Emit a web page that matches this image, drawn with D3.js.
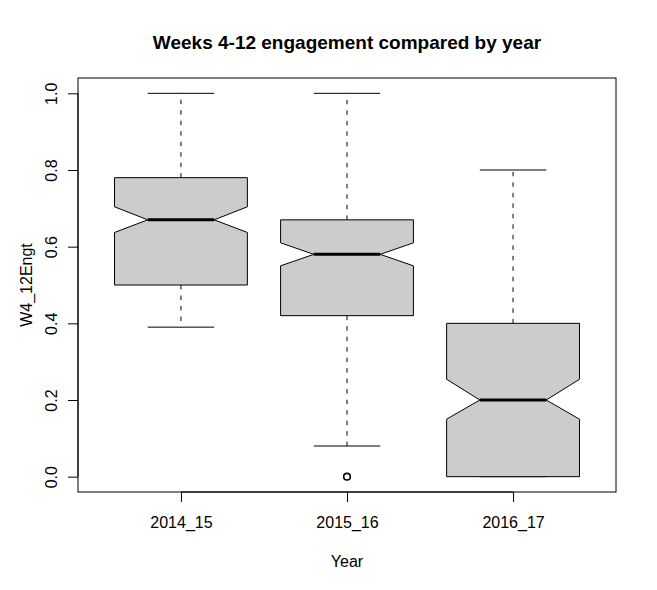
<!DOCTYPE html>
<html>
<head>
<meta charset="utf-8">
<script src="https://cdn.jsdelivr.net/npm/d3@7"></script>
<style>
  body { margin: 0; background: #fff; }
  text { font-family: "Liberation Sans", Arial, sans-serif; fill: #000; }
</style>
</head>
<body>
<div id="chart"></div>
<script>
// values
const years = ['2014_15', '2015_16', '2016_17'];
const whiskerLow = [0.39, 0.08, 0.00];
const q1 = [0.50, 0.42, 0.00];
const median = [0.67, 0.58, 0.20];
const q3 = [0.78, 0.67, 0.40];
const whiskerHigh = [1.00, 1.00, 0.80];
const notchLow = [0.637, 0.55, 0.15];
const notchHigh = [0.704, 0.61, 0.254];
const outliers = [[], [0.0], []];
const yTicks = [0, 0.2, 0.4, 0.6, 0.8, 1.0];

const width = 657, height = 590;
const plot = {left: 78, right: 616, top: 78, bottom: 492};

const boxes = years.map((name, i) => ({
  name, i: i + 1,
  lo: whiskerLow[i], q1: q1[i], med: median[i], q3: q3[i], hi: whiskerHigh[i],
  nlo: notchLow[i], nhi: notchHigh[i], out: outliers[i]
}));

const x = d3.scaleLinear().domain([0.38, 3.62]).range([plot.left, plot.right]);
const y = d3.scaleLinear().domain([-0.04, 1.04]).range([plot.bottom, plot.top]);
const wid = 0.4;

const svg = d3.select('#chart')
  .append('svg')
    .attr('width', width)
    .attr('height', height);

const g = svg.selectAll('g.box')
  .data(boxes).enter().append('g')
  .attr('class', 'box');

// whiskers (dashed)
g.append('line')
  .attr('x1', (d) => x(d.i)).attr('x2', (d) => x(d.i))
  .attr('y1', (d) => y(d.q3)).attr('y2', (d) => y(d.hi))
  .attr('stroke', '#000').attr('stroke-dasharray', '4.5,6');
g.append('line')
  .attr('x1', (d) => x(d.i)).attr('x2', (d) => x(d.i))
  .attr('y1', (d) => y(d.q1)).attr('y2', (d) => y(d.lo))
  .attr('stroke', '#000').attr('stroke-dasharray', '4.5,6');

// staples
['lo', 'hi'].forEach((k) => {
  g.append('line')
    .attr('x1', (d) => x(d.i - wid / 2)).attr('x2', (d) => x(d.i + wid / 2))
    .attr('y1', (d) => y(d[k])).attr('y2', (d) => y(d[k]))
    .attr('stroke', '#000');
});

// notched box
g.append('path')
  .attr('d', (d) => d3.line()([
    [x(d.i - wid), y(d.q1)],
    [x(d.i - wid), y(d.nlo)],
    [x(d.i - wid / 2), y(d.med)],
    [x(d.i - wid), y(d.nhi)],
    [x(d.i - wid), y(d.q3)],
    [x(d.i + wid), y(d.q3)],
    [x(d.i + wid), y(d.nhi)],
    [x(d.i + wid / 2), y(d.med)],
    [x(d.i + wid), y(d.nlo)],
    [x(d.i + wid), y(d.q1)]
  ]) + 'Z')
  .attr('fill', '#cccccc')
  .attr('stroke', '#000');

// median
g.append('line')
  .attr('x1', (d) => x(d.i - wid / 2)).attr('x2', (d) => x(d.i + wid / 2))
  .attr('y1', (d) => y(d.med)).attr('y2', (d) => y(d.med))
  .attr('stroke', '#000').attr('stroke-width', 3);

// outliers
g.selectAll('circle')
  .data((d) => d.out.map((v) => ({i: d.i, v}))).enter().append('circle')
  .attr('cx', (d) => x(d.i))
  .attr('cy', (d) => y(d.v))
  .attr('r', 3.3)
  .attr('fill', 'none')
  .attr('stroke', '#000')
  .attr('stroke-width', 1.6);

// plot frame
svg.append('rect')
  .attr('x', plot.left).attr('y', plot.top)
  .attr('width', plot.right - plot.left).attr('height', plot.bottom - plot.top)
  .attr('fill', 'none').attr('stroke', '#000');

// y axis
const yAxis = svg.append('g')
  .attr('transform', 'translate(' + plot.left + ',0)')
  .call(d3.axisLeft(y).tickValues(yTicks).tickFormat(d3.format('.1f')).tickSize(10).tickPadding(0));
yAxis.select('.domain')
  .attr('d', 'M0,' + y(0) + 'V' + y(1));
yAxis.selectAll('text')
  .attr('transform', 'rotate(-90)')
  .attr('x', 0)
  .attr('y', -21)
  .attr('dy', 0)
  .style('text-anchor', 'middle')
  .style('font-size', '16px');

// x axis
const xAxis = svg.append('g')
  .attr('transform', 'translate(0,' + plot.bottom + ')')
  .call(d3.axisBottom(x).tickValues([1, 2, 3]).tickFormat((d) => years[d - 1]).tickSize(10).tickPadding(0));
xAxis.select('.domain')
  .attr('d', 'M' + x(1) + ',0H' + x(3));
xAxis.selectAll('text')
  .attr('y', 36)
  .attr('dy', 0)
  .style('font-size', '16px');

svg.selectAll('.tick line').attr('stroke', '#000');
svg.selectAll('.domain').attr('stroke', '#000');

// titles
svg.append('text')
  .attr('x', (plot.left + plot.right) / 2)
  .attr('y', 49)
  .style('text-anchor', 'middle')
  .style('font-size', '19px')
  .style('font-weight', 'bold')
  .text('Weeks 4-12 engagement compared by year');

svg.append('text')
  .attr('x', (plot.left + plot.right) / 2)
  .attr('y', 567)
  .style('text-anchor', 'middle')
  .style('font-size', '16px')
  .text('Year');

svg.append('text')
  .attr('transform', 'translate(32,' + (plot.top + plot.bottom) / 2 + ') rotate(-90)')
  .style('text-anchor', 'middle')
  .style('font-size', '16px')
  .text('W4_12Engt');
</script>
</body>
</html>
